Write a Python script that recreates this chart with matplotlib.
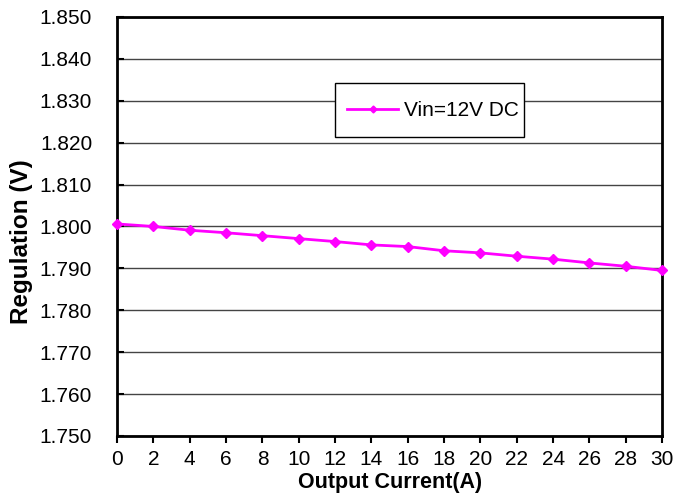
import numpy as np
import matplotlib.pyplot as plt
from matplotlib.patches import Rectangle

plt.rcParams['font.family'] = ['Liberation Sans', 'DejaVu Sans']

# donnees
courant = [0, 2, 4, 6, 8, 10, 12, 14, 16, 18, 20, 22, 24, 26, 28, 30]
tension = [1.8006, 1.8000, 1.7991, 1.7985, 1.7978, 1.7971, 1.7964, 1.7956,
           1.7952, 1.7942, 1.7937, 1.7929, 1.7922, 1.7913, 1.7905, 1.7895]
yticks = np.arange(1.750, 1.8501, 0.010)
xticks = np.arange(0, 31, 2)

fig = plt.figure(figsize=(6.89, 4.98), dpi=100)
ax = fig.add_axes([0.170, 0.1245, 0.791, 0.8415])

ax.plot(courant, tension, color="#FF00FF", lw=2, marker="D", ms=5,
        label="Vin=12V DC", zorder=3, clip_on=False)

ax.set_xlim(0, 30)
ax.set_ylim(1.750, 1.850)
ax.set_xticks(xticks)
ax.set_yticks(yticks)
ax.set_yticklabels([f"{v:.3f}" for v in yticks])
ax.tick_params(axis="both", labelsize=15, width=1.5)
ax.tick_params(axis="x", direction="out", length=5, pad=5)
ax.tick_params(axis="y", direction="in", length=5, pad=18)
ax.grid(axis="y", color="#444444", lw=1)
for s in ax.spines.values():
    s.set_linewidth(2)

ax.set_xlabel("Output Current(A)", fontsize=15.5, fontweight="bold")
ax.xaxis.set_label_coords(0.5, -0.085)
ax.set_ylabel("Regulation (V)", fontsize=17.5, fontweight="bold")
ax.yaxis.set_label_coords(-0.154, 0.463)

# cadre de la legende
cadre = Rectangle((0.400, 0.714), 0.347, 0.129, transform=ax.transAxes,
                  facecolor="white", edgecolor="black", lw=1, zorder=4)
ax.add_patch(cadre)
leg = ax.legend(loc="center left", bbox_to_anchor=(0.422, 0.777), fontsize=15,
                frameon=False, handlelength=2.45, handletextpad=0.3,
                borderpad=0, borderaxespad=0, markerscale=0.7)
leg.set_zorder(5)

fig.savefig("out.png", dpi=100)
